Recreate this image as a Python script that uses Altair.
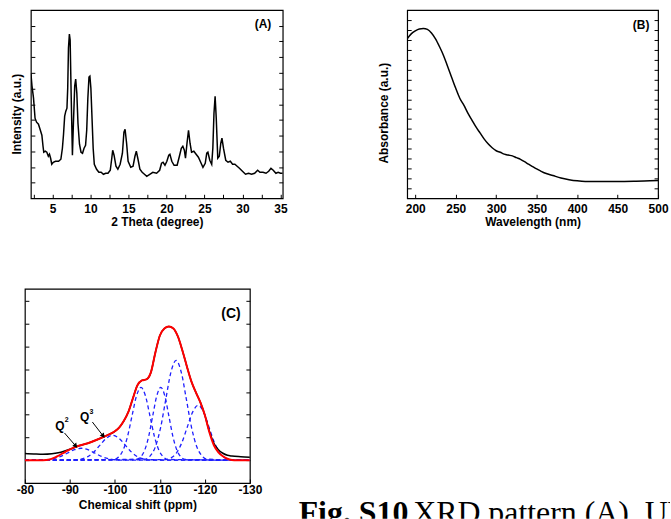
import altair as alt
import pandas as pd

SANS = "Liberation Sans"
SERIF = "Liberation Serif"

# ---------------- Panel A : XRD pattern ----------------
xrd_2theta = [2.15, 2.3, 2.5, 2.7, 2.9, 3.15, 3.4, 3.6, 3.75, 3.85, 4.05, 4.25, 4.45, 4.6, 4.75, 4.9,
              5.1, 5.4, 5.8, 6.1, 6.3, 6.45, 6.6, 6.75, 6.9, 7.0, 7.1, 7.22, 7.32, 7.45, 7.62, 7.75,
              7.92, 8.05, 8.2, 8.35, 8.55, 8.75, 8.95, 9.15, 9.35, 9.5, 9.65, 9.8, 9.92, 10.05, 10.2,
              10.35, 10.5, 10.8, 11.1, 11.4, 11.7, 12.0, 12.3, 12.6, 12.8, 12.92, 13.1, 13.35, 13.6,
              13.9, 14.2, 14.4, 14.55, 14.75, 14.95, 15.3, 15.6, 15.85, 16.03, 16.25, 16.5, 16.8,
              17.1, 17.4, 17.8, 18.2, 18.7, 19.1, 19.35, 19.55, 19.8, 20.05, 20.3, 20.45, 20.7, 21.0,
              21.4, 21.7, 21.95, 22.15, 22.35, 22.5, 22.7, 22.9, 23.1, 23.3, 23.6, 23.9, 24.2, 24.5,
              24.8, 25.1, 25.3, 25.45, 25.7, 25.95, 26.1, 26.25, 26.4, 26.55, 26.75, 26.95, 27.15,
              27.3, 27.5, 27.8, 28.1, 28.4, 28.7, 29.0, 29.3, 29.6, 30.0, 30.4, 30.8, 31.2, 31.6,
              32.0, 32.3, 32.7, 33.1, 33.45, 33.75, 34.05, 34.4, 34.7, 35.0, 35.3]
xrd_intensity = [125, 112, 100, 80, 76, 74, 68, 63, 52, 46, 47, 46, 42, 44, 40, 34,
                 36, 37, 37, 39, 50, 64, 82, 87, 90, 110, 150, 164, 158, 105, 43, 75,
                 112, 119, 105, 75, 54, 46, 45, 50, 53, 68, 100, 121, 122, 110, 80,
                 50, 34, 29, 26, 26, 24, 25, 25, 28, 40, 48, 43, 32, 29,
                 34, 45, 66, 69, 55, 37, 31, 32, 42, 47, 39, 29, 26,
                 24, 22, 24, 26, 25, 28, 35, 36, 33, 37, 43, 44, 37, 33,
                 33, 42, 50, 52, 48, 40, 55, 68, 55, 46, 47, 44, 41, 36,
                 31, 35, 45, 46, 38, 34, 50, 85, 102, 80, 40, 42, 55,
                 60, 50, 38, 36, 37, 34, 34, 32, 30, 27, 24, 25, 24, 25,
                 28, 26, 26, 25, 27, 30, 28, 25, 26, 25, 25]
a_x_domain = [2.15, 35.3]
a_y_domain = [0, 188]
a_x_labels = [5, 10, 15, 20, 25, 30, 35]
a_x_minor = [2.5, 7.5, 12.5, 17.5, 22.5, 27.5, 32.5]
a_y_ticks = [15.7, 31.3, 47.0, 62.7, 78.3, 94.0, 109.7, 125.3, 141.0, 156.7, 172.3]

# ---------------- Panel B : UV-vis ----------------
uv_wavelength = [190, 195, 200, 205, 210, 215, 220, 225, 230, 235, 240, 245, 250, 255, 260, 265,
                 270, 275, 280, 285, 290, 295, 300, 305, 310, 315, 320, 325, 330, 335, 340, 345,
                 350, 355, 360, 370, 380, 390, 400, 410, 430, 450, 470, 490, 500]
uv_absorbance = [161, 166, 169, 171, 171.5, 170.5, 167, 161, 153, 144, 133, 122, 111, 101, 94, 86,
                 79, 72, 66, 60, 55, 51, 48, 46.5, 44.6, 43.6, 42.8, 41, 39.3, 37, 34.4, 32,
                 29.6, 27.5, 25.5, 23, 20.5, 18.8, 17.6, 17, 17, 17, 17.2, 17.6, 18]
b_x_domain = [190, 500]
b_y_domain = [0, 190]
b_x_ticks = [200, 225, 250, 275, 300, 325, 350, 375, 400, 425, 450, 475, 500]
b_y_ticks = [10, 20, 30, 40, 50, 60, 70, 80, 90, 100, 110, 120, 130, 140, 150, 160, 170, 180]

# ---------------- Panel C : 29Si NMR ----------------
nmr_shift = [-80, -82, -84, -86, -88, -90, -92, -94, -96, -98, -100, -101, -102, -103, -104, -105,
             -106, -107, -108, -109, -110, -111, -112, -113, -114, -115, -116, -117, -118, -119,
             -120, -121, -122, -123, -124, -125, -126, -128, -130]
nmr_measured = [6.7, 6.3, 6.0, 6.5, 8.0, 11, 14.5, 17, 20.5, 24.5, 29, 33, 39.5, 48.5, 62, 75,
                80, 81, 88, 108, 125, 132, 134, 132, 124, 110, 94, 79, 68, 58,
                45, 29, 17, 10.5, 7, 5, 4.2, 3.5, 3]
fit_shift = [-80, -84, -85.5, -87, -89, -90, -92, -94, -96, -98, -100, -101, -102, -103, -104, -105,
             -106, -107, -108, -109, -110, -111, -112, -113, -114, -115, -116, -117, -118, -119,
             -120, -121, -122, -123, -124, -125, -126, -127, -130]
fit_total = [0, 0, 0.8, 3.5, 8.5, 11, 14.5, 17, 20.5, 24.5, 29, 33, 39.5, 48.5, 62, 75,
             80, 81, 88, 108, 125, 132, 134, 132, 124, 110, 94, 79, 68, 58,
             45, 28, 15, 8, 4, 1.5, 0.3, 0, 0]
comp_q2_shift = [-80, -83.5, -85, -86.5, -88, -89.5, -91, -92.5, -94, -95.5, -97, -98.5, -100, -101.5, -130]
comp_q2_value = [0, 0.1, 0.5, 1.6, 3.9, 7.3, 10.6, 12, 10.6, 7.3, 3.9, 1.6, 0.5, 0.1, 0]
comp_q3_shift = [-80, -91.1, -92.5, -93.9, -95.3, -96.7, -98.1, -99.5, -100.9, -102.3, -103.7, -105.1, -106.5, -107.9, -130]
comp_q3_value = [0, 0.3, 1.1, 3.4, 8.1, 15.2, 22, 25, 22, 15.2, 8.1, 3.4, 1.1, 0.3, 0]
comp_3_shift = [-80, -99.8, -100.8, -101.8, -102.8, -103.8, -104.8, -105.8, -106.8, -107.8, -108.8, -109.8, -110.8, -111.8, -130]
comp_3_value = [0, 0.8, 3.2, 9.9, 23.6, 44.3, 64.4, 73, 64.4, 44.3, 23.6, 9.9, 3.2, 0.8, 0]
comp_4_shift = [-80, -104.8, -105.7, -106.6, -107.5, -108.4, -109.3, -110.2, -111.1, -112.0, -112.9, -113.8, -114.7, -115.6, -130]
comp_4_value = [0, 0.8, 3.2, 9.9, 23.6, 44.3, 64.4, 73, 64.4, 44.3, 23.6, 9.9, 3.2, 0.8, 0]
comp_5_shift = [-80, -106.7, -107.85, -109.0, -110.15, -111.3, -112.45, -113.6, -114.75, -115.9, -117.05, -118.2, -119.35, -120.5, -130]
comp_5_value = [0, 1.1, 4.4, 13.5, 32.5, 60.7, 88.2, 100, 88.2, 60.7, 32.5, 13.5, 4.4, 1.1, 0]
comp_6_shift = [-80, -111.3, -112.5, -113.7, -114.9, -116.1, -117.3, -118.5, -119.7, -120.9, -122.1, -123.3, -124.5, -125.7, -130]
comp_6_value = [0, 0.6, 2.4, 7.4, 17.9, 33.4, 48.5, 55, 48.5, 33.4, 17.9, 7.4, 2.4, 0.6, 0]
c_x_domain = [-130, -80]
c_y_domain = [-22.8, 171.7]
c_x_ticks = [-80, -85, -90, -95, -100, -105, -110, -115, -120, -125, -130]
c_y_ticks = [0, 22.8, 45.6, 68.4, 91.2, 114, 136.8, 159.6]

q_label_text = ["Q", "Q"]
q_label_x = [-87.8, -93.3]
q_label_y = [34.2, 43.2]
q_sup_text = ["2", "3"]
q_sup_x = [-89.3, -94.8]
q_sup_y = [40, 48]
arrow_x1 = [-88.8, -95.0]
arrow_y1 = [27.3, 38.3]
arrow_x2 = [-91.3, -97.4]
arrow_y2 = [14.3, 24.3]
arrow_angle = [139, 142]

caption_bold = "Fig. S10"
caption_rest = "XRD pattern (A), UV-vis spectrum (B)"

# ---------------- helpers ----------------
TICK = 4


def every(step, prefix="", absval=False):
    v = "abs(round(datum.value))" if absval else "round(datum.value)"
    return ("abs(datum.value / %s - round(datum.value / %s)) < 0.01 ? '%s' + %s : ''"
            % (step, step, prefix, v))


def bottom_axis(values, title, lp, tp, label_expr=None):
    kw = dict(values=values, title=title, orient="bottom",
              tickSize=TICK, offset=-TICK, domain=False, grid=False,
              tickColor="black", tickWidth=1,
              labelFont=SANS, labelFontSize=12, labelFontWeight="bold", labelColor="black",
              labelPadding=lp, labelFlush=False, labelOverlap=False,
              titleFont=SANS, titleFontSize=12, titleFontWeight="bold", titleColor="black",
              titlePadding=tp)
    if label_expr:
        kw.update(labelExpr=label_expr)
    return alt.Axis(**kw)


def minor_bottom_axis(values):
    return alt.Axis(values=values, orient="bottom", labels=False, tickSize=TICK, offset=-TICK,
                    domain=False, grid=False, tickColor="black", tickWidth=1, title=None)


def left_axis(values, title=None, tp=0, ty=None):
    kw = dict(values=values, orient="left", labels=False, tickSize=TICK, offset=-TICK,
              domain=False, grid=False, tickColor="black", tickWidth=1)
    if title:
        kw.update(title=title, titleFont=SANS, titleFontSize=12, titleFontWeight="bold",
                  titleColor="black", titlePadding=tp)
        if ty is not None:
            kw.update(titleY=ty)
    else:
        kw.update(title=None)
    return alt.Axis(**kw)


def right_axis(values):
    return alt.Axis(values=values, orient="right", labels=False, tickSize=TICK, offset=-TICK,
                    domain=False, grid=False, tickColor="black", tickWidth=1, title=None)


def sc(dom, rev=False):
    if rev:
        return alt.Scale(domain=dom, nice=False, zero=False, reverse=True)
    return alt.Scale(domain=dom, nice=False, zero=False)


# ---------------- Panel A ----------------
dfA = pd.DataFrame({"x": xrd_2theta, "y": xrd_intensity})
lineA = alt.Chart(dfA).mark_line(color="black", strokeWidth=1.5, clip=True).encode(
    x=alt.X("x:Q", scale=sc(a_x_domain),
            axis=bottom_axis(a_x_labels, "2 Theta (degree)", 5, 2)),
    y=alt.Y("y:Q", scale=sc(a_y_domain), axis=left_axis(a_y_ticks, "Intensity (a.u.)", 7, 104)),
)
labA = alt.Chart(pd.DataFrame({"x": [32.7], "y": [174], "t": ["(A)"]})).mark_text(
    font=SANS, fontSize=12, fontWeight="bold", color="black").encode(
    x=alt.X("x:Q", scale=sc(a_x_domain), axis=minor_bottom_axis(a_x_minor)),
    y=alt.Y("y:Q", scale=sc(a_y_domain), axis=right_axis(a_y_ticks)),
    text="t:N")
panelA = alt.layer(lineA, labA).resolve_axis(x="independent", y="independent").properties(
    width=253, height=189)

# ---------------- Panel B ----------------
dfB = pd.DataFrame({"x": uv_wavelength, "y": uv_absorbance})
lineB = alt.Chart(dfB).mark_line(color="black", strokeWidth=1.5, clip=True, interpolate="monotone").encode(
    x=alt.X("x:Q", scale=sc(b_x_domain),
            axis=bottom_axis(b_x_ticks, "Wavelength (nm)", 5, 2, every(50))),
    y=alt.Y("y:Q", scale=sc(b_y_domain), axis=left_axis(b_y_ticks, "Absorbance (a.u.)", 16, 103)),
)
labB = alt.Chart(pd.DataFrame({"x": [479], "y": [175], "t": ["(B)"]})).mark_text(
    font=SANS, fontSize=12, fontWeight="bold", color="black").encode(
    x=alt.X("x:Q", scale=sc(b_x_domain)),
    y=alt.Y("y:Q", scale=sc(b_y_domain), axis=right_axis(b_y_ticks)),
    text="t:N")
panelB = alt.layer(lineB, labB).resolve_axis(y="independent").properties(width=252, height=189)

# ---------------- Panel C ----------------
comp_rows = []
for name, xs, ys in [("Q2", comp_q2_shift, comp_q2_value), ("Q3", comp_q3_shift, comp_q3_value),
                     ("c3", comp_3_shift, comp_3_value), ("c4", comp_4_shift, comp_4_value),
                     ("c5", comp_5_shift, comp_5_value), ("c6", comp_6_shift, comp_6_value)]:
    for xv, yv in zip(xs, ys):
        comp_rows.append({"x": xv, "y": yv, "comp": name})
dfComp = pd.DataFrame(comp_rows)
dfMeas = pd.DataFrame({"x": nmr_shift, "y": nmr_measured})
dfFit = pd.DataFrame({"x": fit_shift, "y": fit_total})

xC = alt.X("x:Q", scale=sc(c_x_domain, rev=True),
           axis=bottom_axis(c_x_ticks, "Chemical shift (ppm)", 2, 4, every(10, "-", True)))
xCn = alt.X("x:Q", scale=sc(c_x_domain, rev=True))
yCs = sc(c_y_domain)
yCn = alt.Y("y:Q", scale=yCs, axis=None)

compC = alt.Chart(dfComp).mark_line(color="#1f1fff", strokeWidth=1.3, strokeDash=[4, 3],
                                    interpolate="monotone", clip=True).encode(
    x=xC, y=alt.Y("y:Q", scale=yCs, axis=left_axis(c_y_ticks)), detail="comp:N")
measC = alt.Chart(dfMeas).mark_line(color="black", strokeWidth=1.5, interpolate="monotone", clip=True).encode(
    x=xCn, y=yCn)
fitC = alt.Chart(dfFit).mark_line(color="#ff0000", strokeWidth=2, interpolate="monotone", clip=True).encode(
    x=xCn, y=yCn)
dfArrow = pd.DataFrame({"x": arrow_x1, "y": arrow_y1, "x2": arrow_x2, "y2": arrow_y2, "a": arrow_angle})
arrowLine = alt.Chart(dfArrow).mark_rule(color="black", strokeWidth=1).encode(
    x=xCn, y=yCn, x2="x2:Q", y2="y2:Q")
arrowHead = alt.Chart(dfArrow).mark_point(shape="triangle-up", filled=True, color="black",
                                          size=28, opacity=1).encode(
    x=alt.X("x2:Q", scale=sc(c_x_domain, rev=True)),
    y=alt.Y("y2:Q", scale=yCs, axis=None), angle=alt.Angle("a:Q", scale=None))
dfQ = pd.DataFrame({"x": q_label_x, "y": q_label_y, "t": q_label_text})
qText = alt.Chart(dfQ).mark_text(font=SANS, fontSize=12, fontWeight="bold", color="black").encode(
    x=xCn, y=yCn, text="t:N")
dfQs = pd.DataFrame({"x": q_sup_x, "y": q_sup_y, "t": q_sup_text})
qSup = alt.Chart(dfQs).mark_text(font=SANS, fontSize=7, fontWeight="bold", color="black").encode(
    x=xCn, y=yCn, text="t:N")
labC = alt.Chart(pd.DataFrame({"x": [-125.8], "y": [147], "t": ["(C)"]})).mark_text(
    font=SANS, fontSize=14, fontWeight="bold", color="black").encode(
    x=xCn, y=alt.Y("y:Q", scale=yCs, axis=right_axis(c_y_ticks)), text="t:N")
panelC = alt.layer(compC, measC, fitC, arrowLine, arrowHead, qText, qSup, labC).resolve_axis(
    y="independent").properties(width=226, height=195)

# ---------------- caption ----------------
capBold = alt.Chart(pd.DataFrame({"t": [caption_bold]})).mark_text(
    font=SERIF, fontSize=32, fontWeight="bold", color="black", align="left",
    baseline="alphabetic", clip=True).encode(x=alt.value(18), y=alt.value(235), text="t:N")
capRest = alt.Chart(pd.DataFrame({"t": [caption_rest]})).mark_text(
    font=SERIF, fontSize=32, fontWeight="normal", color="black", align="left",
    baseline="alphabetic", clip=True).encode(x=alt.value(133), y=alt.value(235), text="t:N")
caption = alt.layer(capBold, capRest).properties(
    width=391, height=231, view=alt.ViewBackground(stroke="transparent"))


def spacer(w, h):
    return alt.Chart(pd.DataFrame({"a": [0]})).mark_point(opacity=0, size=1).encode(
        x=alt.value(0), y=alt.value(1)).properties(
        width=w, height=h, view=alt.ViewBackground(stroke="transparent"))


row1 = alt.hconcat(spacer(6, 189), panelA, spacer(125, 189), panelB, spacing=0, bounds="flush")
row2 = alt.hconcat(panelC, spacer(31, 195), caption, spacing=0, bounds="flush")

chart = alt.vconcat(row1, row2, spacing=60).properties(
    padding={"left": 9, "top": 8, "right": 0, "bottom": 0},
    background="white",
).configure_view(stroke="black", strokeWidth=1.2)

chart.save("out.html", embed_options={"renderer": "svg", "actions": False})
